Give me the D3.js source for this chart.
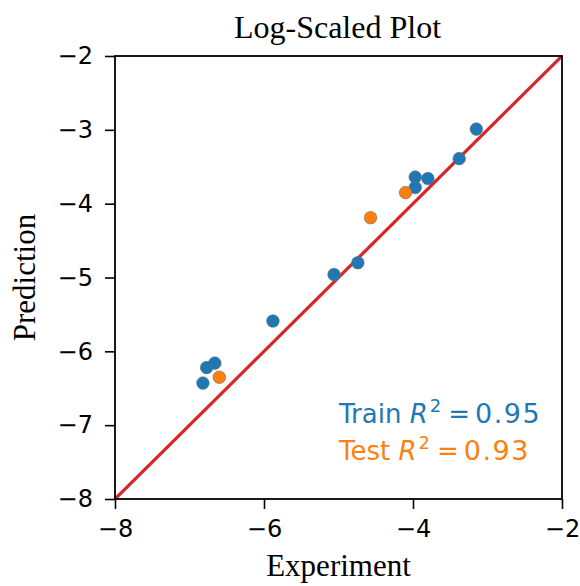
<!DOCTYPE html>
<meta charset="utf-8">
<script src="https://d3js.org/d3.v7.min.js"></script>
<style>
  body { margin: 0; background: #fff; }
  .tick text { font-family: "DejaVu Sans"; font-size: 24px; fill: #000; }
  .serif { font-family: "Liberation Serif", "Times New Roman", serif; font-size: 31px; }
</style>
<div id="my_dataviz"></div>
<script>

// data (log10 values)
var trainX = [-3.15, -3.38, -3.97, -3.80, -3.97, -4.74, -5.06, -5.88, -6.66, -6.77, -6.82];
var trainY = [-2.99, -3.39, -3.64, -3.66, -3.78, -4.80, -4.96, -5.59, -6.16, -6.22, -6.43];
var testX = [-4.10, -4.57, -6.60];
var testY = [-3.85, -4.19, -6.35];
var xTicks = [-8, -6, -4, -2];
var yTicks = [-8, -7, -6, -5, -4, -3, -2];
var axisRange = [-8, -2];
var r2Train = "0.95", r2Test = "0.93";

var width = 580,
    height = 586,
    margin = {top: 56, right: 18, bottom: 87, left: 115};

var svg = d3.select("#my_dataviz")
  .append("svg")
  .attr("width", width)
  .attr("height", height);

var pw = width - margin.left - margin.right,
    ph = height - margin.top - margin.bottom;

var g = svg.append("g")
  .attr("transform", "translate(" + margin.left + "," + margin.top + ")");

var x = d3.scaleLinear().domain(axisRange).range([0, pw]);
var y = d3.scaleLinear().domain(axisRange).range([ph, 0]);

// clip so the diagonal stays inside the box
g.append("clipPath").attr("id", "clip")
  .append("rect").attr("width", pw).attr("height", ph);

// y = x line
g.append("line")
  .attr("clip-path", "url(#clip)")
  .attr("x1", x(axisRange[0])).attr("y1", y(axisRange[0]))
  .attr("x2", x(axisRange[1])).attr("y2", y(axisRange[1]))
  .attr("stroke", "#d62728")
  .attr("stroke-width", 3.2);

// points
function dots(xs, ys, color) {
  g.selectAll(null)
    .data(xs)
    .enter()
    .append("circle")
    .attr("cx", function(d) { return x(d); })
    .attr("cy", function(d, i) { return y(ys[i]); })
    .attr("r", 6.3)
    .attr("fill", color)
    .attr("stroke", "#6b6b6b")
    .attr("stroke-width", 0.6);
}
dots(trainX, trainY, "#1f77b4");
dots(testX, testY, "#ff7f0e");

// axes
var xAxis = g.append("g")
  .attr("transform", "translate(0," + ph + ")")
  .call(d3.axisBottom(x).tickValues(xTicks).tickSize(10).tickPadding(11).tickFormat(d3.format("d")));
var yAxis = g.append("g")
  .call(d3.axisLeft(y).tickValues(yTicks).tickSize(10).tickPadding(12).tickFormat(d3.format("d")));
[xAxis, yAxis].forEach(function(a) {
  a.select(".domain").remove();
  a.selectAll(".tick line").attr("stroke", "#000").attr("stroke-width", 1.6);
});

// frame
g.append("rect")
  .attr("width", pw).attr("height", ph)
  .attr("fill", "none")
  .attr("stroke", "#000")
  .attr("stroke-width", 1.8);

// titles
svg.append("text").attr("class", "serif")
  .attr("x", margin.left + pw / 2 - 1).attr("y", 38)
  .attr("text-anchor", "middle")
  .style("font-size", "32px")
  .text("Log-Scaled Plot");
svg.append("text").attr("class", "serif")
  .attr("x", margin.left + pw / 2).attr("y", 576)
  .attr("text-anchor", "middle")
  .text("Experiment");
svg.append("text").attr("class", "serif")
  .attr("transform", "translate(35," + (margin.top + ph / 2) + ") rotate(-90)")
  .attr("text-anchor", "middle")
  .text("Prediction");

// R^2 annotations
function r2Label(label, val, color, yPos) {
  var t = svg.append("text")
    .attr("x", 339).attr("y", yPos)
    .attr("font-family", "DejaVu Sans")
    .attr("font-size", 26)
    .attr("fill", color);
  t.append("tspan").text(label + " ");
  t.append("tspan").attr("font-style", "italic").text("R");
  t.append("tspan").attr("font-size", 18).attr("dy", -11).attr("dx", 2).text("2");
  t.append("tspan").attr("dy", 11).attr("dx", 7).text("=");
  t.append("tspan").attr("dx", 5).attr("font-size", 27).attr("letter-spacing", 1.5).text(val);
}
r2Label("Train", r2Train, "#1f77b4", 423);
r2Label("Test", r2Test, "#ff7f0e", 460);

</script>
